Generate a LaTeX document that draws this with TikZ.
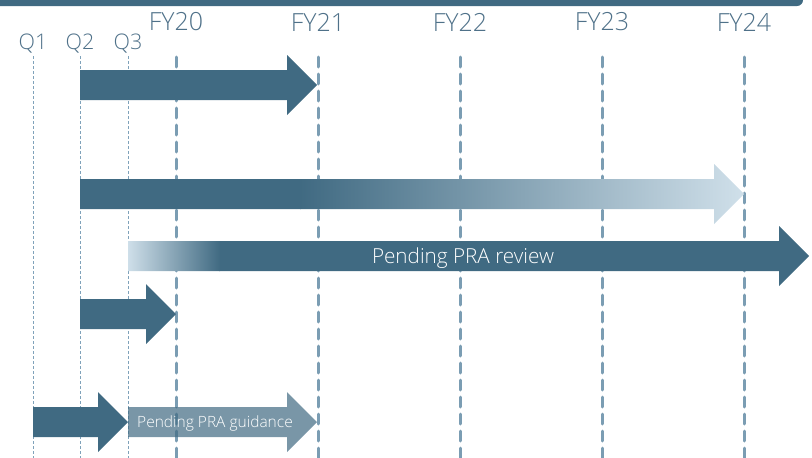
\documentclass[tikz,border=0pt]{standalone}
\usepackage{fontspec}
\setmainfont{Open Sans Light}
\definecolor{teal}{HTML}{406A82}
\definecolor{lightend}{HTML}{D0E0EA}
\definecolor{fyline}{HTML}{7B9DB3}
\definecolor{qline}{HTML}{7FA2BA}
\definecolor{labelcol}{HTML}{4F7189}
\tikzset{
  fyl/.style={draw=fyline, line width=3pt, line cap=round, dash pattern=on 10pt off 7pt},
  qln/.style={draw=qline, line width=0.9pt, dash pattern=on 3pt off 2pt},
  fylabel/.style={text=labelcol, font=\fontsize{25}{27}\selectfont, inner sep=0pt},
  qlabel/.style={text=labelcol, font=\fontsize{21.5}{23}\selectfont, inner sep=0pt},
  intext/.style={text=white, inner sep=0pt},
}
% arrow shape: #1 x-start, #2 tip x, #3 centre y
\newcommand{\arrowpath}[3]{(#1,#3-15) -- (#2-30,#3-15) -- (#2-30,#3-30) -- (#2,#3) -- (#2-30,#3+30) -- (#2-30,#3+15) -- (#1,#3+15) -- cycle}
\begin{document}
\begin{tikzpicture}[x=1pt,y=-1pt]
\useasboundingbox (0,0) rectangle (812,458);
% top bar
\fill[teal, rounded corners=6pt] (-10,-10) rectangle (803,6);
% labels
\node[fylabel] (fy20) at (176,22) {FY20};
\node[fylabel] (fy21) at (318,22) {FY21};
\node[fylabel] (fy22) at (460,22) {FY22};
\node[fylabel] (fy23) at (602,22) {FY23};
\node[fylabel] (fy24) at (744,22) {FY24};
\node[qlabel] (q1) at (33,44) {Q1};
\node[qlabel] (q2) at (80,44) {Q2};
\node[qlabel] (q3) at (128,44) {Q3};
% coordinates for line ends
\foreach \n/\x in {q1/33,q2/80,q3/128}{
  \coordinate (\n b) at (\x,458);
  \draw[qln] (\x,56) -- (\n b);
}
\foreach \n/\x in {fy20/176,fy21/318,fy22/460,fy23/602,fy24/744}{
  \coordinate (\n b) at (\x,462);
  \draw[fyl] (\x,57) -- (\n b);
}
% arrow 1
\fill[teal] \arrowpath{80}{317}{85};
% arrow 2 (gradient)
\begin{scope}
  \clip \arrowpath{80}{744}{194};
  \fill[teal] (79,160) rectangle (301,230);
  \shade[left color=teal, right color=lightend] (300,160) rectangle (745,230);
\end{scope}
% arrow 3
\begin{scope}
  \clip \arrowpath{128}{809}{256};
  \fill[teal] (219,220) rectangle (812,290);
  \shade[left color=lightend, right color=teal] (127,220) rectangle (220,290);
\end{scope}
\node[intext, font=\fontsize{20.7}{22}\selectfont] (review) at (463,258) {Pending PRA review};
% arrow 4
\fill[teal] \arrowpath{80}{176}{314};
% arrow 6 (translucent)
\fill[teal, fill opacity=0.7] \arrowpath{128}{317}{422};
\node[intext, font=\fontsize{15.5}{17}\selectfont] (guid) at (215,423) {Pending PRA guidance};
% arrow 5
\fill[teal] \arrowpath{33}{128}{422};
\end{tikzpicture}
\end{document}
